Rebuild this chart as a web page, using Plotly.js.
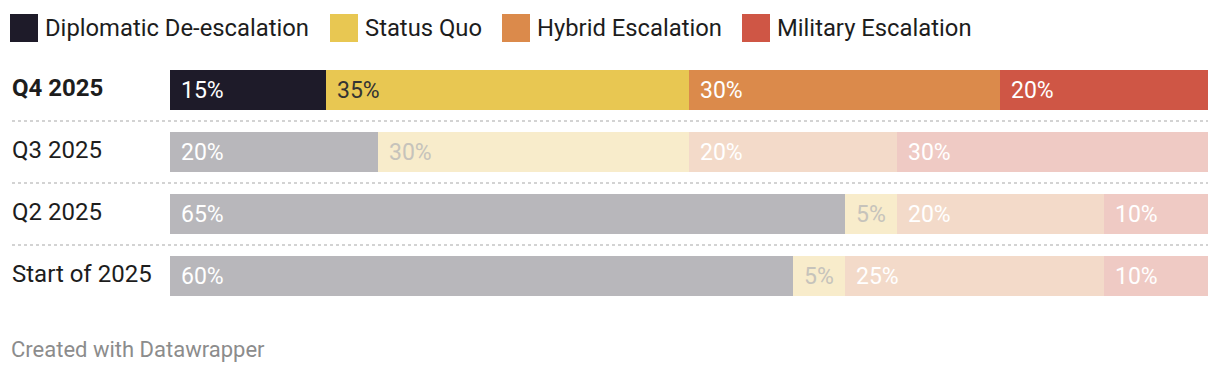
<!DOCTYPE html>
<html>
<head>
<meta charset="utf-8">
<script src="https://cdn.plot.ly/plotly-3.0.1.min.js"></script>
<style>
html,body{margin:0;padding:0;background:#fff;}
#chart{width:1220px;height:372px;}
</style>
</head>
<body>
<div id="chart"></div>
<script>
// ---- data ----
const periods = ["Q4 2025", "Q3 2025", "Q2 2025", "Start of 2025"];
const seriesNames = ["Diplomatic De-escalation", "Status Quo", "Hybrid Escalation", "Military Escalation"];
const diplomatic = [15, 20, 65, 60];
const statusQuo  = [35, 30, 5, 5];
const hybrid     = [30, 20, 20, 25];
const military   = [20, 30, 10, 10];
const footerText = "Created with Datawrapper";

// ---- styles ----
const fullColors  = ["#1e1b29", "#e8c752", "#db8a4b", "#cf5645"];
const fadeColors  = ["#b8b7bb", "#f8eccb", "#f3dac9", "#efcac4"];
const fullText    = ["#ffffff", "#333333", "#ffffff", "#ffffff"];
const fadeText    = ["#ffffff", "#c6c3bb", "#ffffff", "#ffffff"];
const FONT = "Roboto, 'Noto Sans', sans-serif";

const values = [diplomatic, statusQuo, hybrid, military];

const traces = values.map((vals, s) => ({
  type: "bar",
  orientation: "h",
  name: seriesNames[s],
  y: periods,
  x: vals,
  marker: { color: periods.map((p, i) => i === 0 ? fullColors[s] : fadeColors[s]), line: {width: 0} },
  hoverinfo: "none",
  showlegend: false
}));

const annotations = [];
const shapes = [];

// value labels inside bars
periods.forEach((p, i) => {
  let cum = 0;
  values.forEach((vals, s) => {
    annotations.push({
      xref: "x", yref: "y", x: cum, y: p,
      text: vals[i] + "%", showarrow: false,
      xanchor: "left", yanchor: "middle", xshift: 9, yshift: 0,
      font: { family: FONT, size: 23, color: i === 0 ? fullText[s] : fadeText[s] }
    });
    cum += vals[i];
  });
  // row label
  annotations.push({
    xref: "paper", yref: "y", x: 0, y: p, xshift: -160, yshift: 2,
    text: i === 0 ? "<b>" + p + "</b>" : p, showarrow: false,
    xanchor: "left", yanchor: "middle",
    font: { family: FONT, size: 24, color: "#1d1d1d" }
  });
});

// dotted separators between rows
for (let k = 0; k < periods.length - 1; k++) {
  shapes.push({
    type: "line", xref: "paper", yref: "y",
    x0: -158 / 1038, x1: 1, y0: k + 0.5, y1: k + 0.5,
    line: { color: "#d3d3d3", width: 2, dash: "dot" }
  });
}

// custom legend (large squares)
const legendX = [10, 330, 502, 742];
seriesNames.forEach((n, s) => {
  shapes.push({
    type: "rect", xref: "paper", yref: "paper",
    x0: (legendX[s] - 170) / 1038, x1: (legendX[s] + 28 - 170) / 1038,
    y0: 1 + (59 - 42) / 248, y1: 1 + (59 - 14) / 248,
    fillcolor: fullColors[s], line: { width: 0 }
  });
  annotations.push({
    xref: "paper", yref: "paper",
    x: (legendX[s] + 33 - 170) / 1038, y: 1 + (59 - 28) / 248,
    text: n, showarrow: false, xanchor: "left", yanchor: "middle",
    font: { family: FONT, size: 23.8, color: "#1d1d1d" }
  });
});

// footer
annotations.push({
  xref: "paper", yref: "paper", x: (9 - 170) / 1038, y: -(349 - 307) / 248,
  text: footerText, showarrow: false, xanchor: "left", yanchor: "middle",
  font: { family: FONT, size: 22, color: "#8c8c8c" }
});

const layout = {
  width: 1220, height: 372,
  margin: { l: 170, r: 12, t: 59, b: 65, pad: 0 },
  paper_bgcolor: "#ffffff", plot_bgcolor: "#ffffff",
  barmode: "stack", bargap: 0.355,
  xaxis: { range: [0, 100], visible: false, fixedrange: true },
  yaxis: { categoryorder: "array", categoryarray: periods, autorange: "reversed",
           showticklabels: false, showgrid: false, zeroline: false, showline: false, ticks: "" },
  showlegend: false,
  annotations: annotations,
  shapes: shapes,
  font: { family: FONT }
};

Plotly.newPlot("chart", traces, layout, { displayModeBar: false, staticPlot: true });
</script>
</body>
</html>
